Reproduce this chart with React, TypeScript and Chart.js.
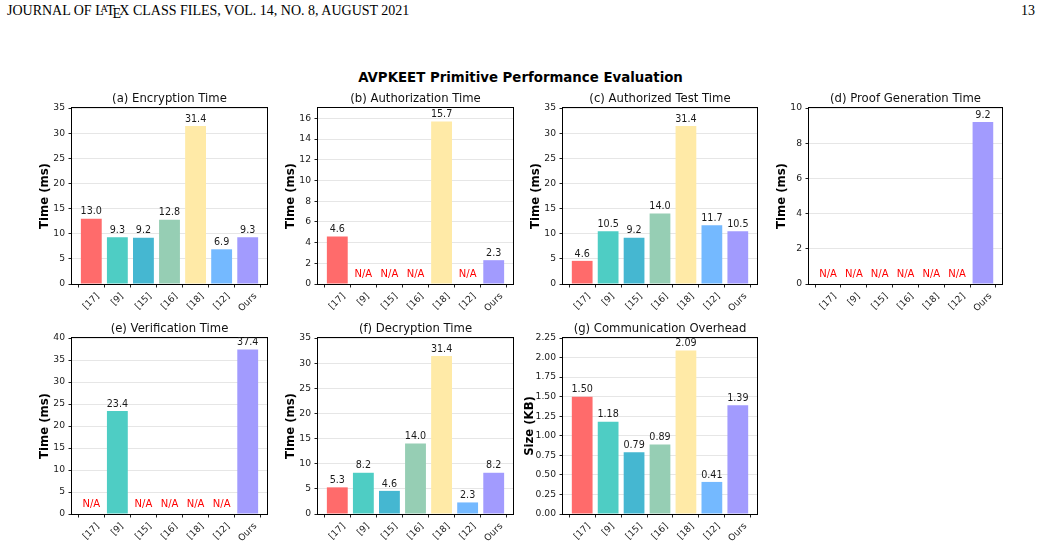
import React, { useEffect, useRef } from 'react';
import { Chart, registerables } from 'chart.js';

Chart.register(...registerables);

// Schemes compared in every panel
const CATEGORIES = ['[17]', '[9]', '[15]', '[16]', '[18]', '[12]', 'Ours'];
const BAR_COLORS = ['#FF6B6B', '#4ECDC4', '#45B7D1', '#96CEB4', '#FFEAA7', '#74B9FF', '#A29BFE'];

// Measured costs (null = scheme has no such primitive)
const encryptionTime = [13.0, 9.3, 9.2, 12.8, 31.4, 6.9, 9.3];
const authorizationTime = [4.6, null, null, null, 15.7, null, 2.3];
const authorizedTestTime = [4.6, 10.5, 9.2, 14.0, 31.4, 11.7, 10.5];
const proofGenerationTime = [null, null, null, null, null, null, 9.2];
const verificationTime = [null, 23.4, null, null, null, null, 37.4];
const decryptionTime = [5.3, 8.2, 4.6, 14.0, 31.4, 2.3, 8.2];
const communicationOverhead = [1.5, 1.18, 0.79, 0.89, 2.09, 0.41, 1.39];

// Y-axis tick values
const TICKS_0_35 = [0, 5, 10, 15, 20, 25, 30, 35];
const TICKS_0_16 = [0, 2, 4, 6, 8, 10, 12, 14, 16];
const TICKS_0_10 = [0, 2, 4, 6, 8, 10];
const TICKS_0_40 = [0, 5, 10, 15, 20, 25, 30, 35, 40];
const TICKS_KB = [0, 0.25, 0.5, 0.75, 1.0, 1.25, 1.5, 1.75, 2.0, 2.25];

const FONT = "'DejaVu Sans', sans-serif";
const TICK_FONT_SIZE = 9.2;
const VALUE_FONT_SIZE = 9.6;
const NA_FONT_SIZE = 10;
const TITLE_FONT_SIZE = 11.67;

type PanelSpec = {
  title: string;
  values: (number | null)[];
  yMax: number;
  yTicks: number[];
  yLabel: string;
  digits: number;
  tickDigits: number;
  col: number;
  row: number;
};

const PANELS: PanelSpec[] = [
  { title: '(a) Encryption Time', values: encryptionTime, yMax: 35, yTicks: TICKS_0_35, yLabel: 'Time (ms)', digits: 1, tickDigits: 0, col: 0, row: 0 },
  { title: '(b) Authorization Time', values: authorizationTime, yMax: 17, yTicks: TICKS_0_16, yLabel: 'Time (ms)', digits: 1, tickDigits: 0, col: 1, row: 0 },
  { title: '(c) Authorized Test Time', values: authorizedTestTime, yMax: 35, yTicks: TICKS_0_35, yLabel: 'Time (ms)', digits: 1, tickDigits: 0, col: 2, row: 0 },
  { title: '(d) Proof Generation Time', values: proofGenerationTime, yMax: 10, yTicks: TICKS_0_10, yLabel: 'Time (ms)', digits: 1, tickDigits: 0, col: 3, row: 0 },
  { title: '(e) Verification Time', values: verificationTime, yMax: 40, yTicks: TICKS_0_40, yLabel: 'Time (ms)', digits: 1, tickDigits: 0, col: 0, row: 1 },
  { title: '(f) Decryption Time', values: decryptionTime, yMax: 35, yTicks: TICKS_0_35, yLabel: 'Time (ms)', digits: 1, tickDigits: 0, col: 1, row: 1 },
  { title: '(g) Communication Overhead', values: communicationOverhead, yMax: 2.25, yTicks: TICKS_KB, yLabel: 'Size (KB)', digits: 2, tickDigits: 2, col: 2, row: 1 },
];

// Grid geometry of the subplot layout
const COL_LEFT = [72, 318, 563, 809];
const COL_WIDTH = [195, 195, 194, 193];
const ROW_TOP = [108, 338];
const PLOT_H = 176;
const AXIS_W = 70;
const TITLE_SPACE = 40;
const RIGHT_SPACE = 12;
const XAXIS_H = 32;
const TICK_LEN = 3.5;
const TICK_PAD = 3.5;

function Panel({ spec }: { spec: PanelSpec }) {
  const ref = useRef<HTMLCanvasElement>(null);
  const plotW = COL_WIDTH[spec.col];
  const width = AXIS_W + plotW + RIGHT_SPACE;
  const height = TITLE_SPACE + PLOT_H + XAXIS_H;

  useEffect(() => {
    const canvas = ref.current;
    if (!canvas) return;

    const decor = {
      id: 'panelDecor',
      afterDraw(chart: any) {
        const { ctx, chartArea: a, scales } = chart;
        const xs = scales.x;
        const ys = scales.y;
        ctx.save();

        // axes frame
        ctx.strokeStyle = '#000';
        ctx.lineWidth = 1;
        ctx.strokeRect(a.left - 0.5, a.top - 0.5, a.right - a.left + 1, a.bottom - a.top + 1);

        // panel title
        ctx.fillStyle = '#111';
        ctx.font = `${TITLE_FONT_SIZE}px ${FONT}`;
        ctx.textAlign = 'center';
        ctx.textBaseline = 'alphabetic';
        ctx.fillText(spec.title, (a.left + a.right) / 2, a.top - 6);

        // y-axis title, placed just outside the widest tick label
        ctx.font = `${TICK_FONT_SIZE}px ${FONT}`;
        let maxW = 0;
        for (const t of ys.ticks) {
          const w = ctx.measureText(String(t.label)).width;
          if (w > maxW) maxW = w;
        }
        ctx.save();
        ctx.translate(a.left - (20.5 + 0.6 * maxW), (a.top + a.bottom) / 2);
        ctx.rotate(-Math.PI / 2);
        ctx.font = `bold ${TITLE_FONT_SIZE}px ${FONT}`;
        ctx.textAlign = 'center';
        ctx.textBaseline = 'middle';
        ctx.fillStyle = '#000';
        ctx.fillText(spec.yLabel, 0, 0);
        ctx.restore();

        // rotated category labels, centred under each tick
        ctx.font = `${TICK_FONT_SIZE}px ${FONT}`;
        ctx.fillStyle = '#1a1a1a';
        const lineH = TICK_FONT_SIZE * 1.16;
        CATEGORIES.forEach((label, i) => {
          const w = ctx.measureText(label).width;
          const boxH = (w + lineH) * Math.SQRT1_2;
          const cx = xs.getPixelForValue(i);
          const cy = a.bottom + TICK_LEN + TICK_PAD + boxH / 2;
          ctx.save();
          ctx.translate(cx, cy);
          ctx.rotate(-Math.PI / 4);
          ctx.textAlign = 'center';
          ctx.textBaseline = 'middle';
          ctx.fillText(label, 0, 0);
          ctx.restore();
        });

        // value annotations
        ctx.textAlign = 'center';
        ctx.textBaseline = 'alphabetic';
        spec.values.forEach((v, i) => {
          const x = xs.getPixelForValue(i);
          if (v === null) {
            ctx.font = `${NA_FONT_SIZE}px ${FONT}`;
            ctx.fillStyle = '#ff0000';
            ctx.fillText('N/A', x, a.bottom - 7);
          } else {
            ctx.font = `${VALUE_FONT_SIZE}px ${FONT}`;
            ctx.fillStyle = '#1a1a1a';
            ctx.fillText(v.toFixed(spec.digits), x, ys.getPixelForValue(v) - 4.3);
          }
        });

        ctx.restore();
      },
    };

    const chart = new Chart(canvas, {
      type: 'bar',
      data: {
        datasets: [
          {
            data: spec.values.map((v, i) => ({ x: i, y: v })) as any,
            backgroundColor: BAR_COLORS,
            borderWidth: 0,
            barPercentage: 0.8,
            categoryPercentage: 1,
          },
        ],
      },
      options: {
        responsive: false,
        animation: false,
        devicePixelRatio: 1,
        layout: { padding: { top: TITLE_SPACE, right: RIGHT_SPACE, left: 0, bottom: 0 } },
        plugins: {
          legend: { display: false },
          tooltip: { enabled: false },
          title: { display: false },
        },
        scales: {
          x: {
            type: 'linear',
            min: -0.74,
            max: 6.74,
            offset: false,
            border: { display: false },
            grid: {
              display: true,
              drawOnChartArea: false,
              drawTicks: true,
              tickLength: TICK_LEN,
              tickColor: '#222',
              tickWidth: 1,
            },
            ticks: { display: false },
            afterBuildTicks: (scale: any) => {
              scale.ticks = CATEGORIES.map((_, i) => ({ value: i }));
            },
            afterFit: (scale: any) => {
              scale.height = XAXIS_H;
            },
          },
          y: {
            type: 'linear',
            min: 0,
            max: spec.yMax,
            border: { display: false },
            grid: {
              display: true,
              drawOnChartArea: true,
              drawTicks: true,
              color: '#e6e6e6',
              lineWidth: 1,
              tickLength: TICK_LEN,
              tickColor: '#222',
              tickWidth: 1,
            },
            ticks: {
              padding: TICK_PAD,
              color: '#1a1a1a',
              font: { family: FONT, size: TICK_FONT_SIZE },
              callback: (value: any) => Number(value).toFixed(spec.tickDigits),
            },
            afterBuildTicks: (scale: any) => {
              scale.ticks = spec.yTicks.map((v) => ({ value: v }));
            },
            afterFit: (scale: any) => {
              scale.width = AXIS_W;
            },
          },
        },
      } as any,
      plugins: [decor],
    });

    return () => chart.destroy();
  }, [spec]);

  return (
    <canvas
      ref={ref}
      width={width}
      height={height}
      style={{
        position: 'absolute',
        left: COL_LEFT[spec.col] - AXIS_W,
        top: ROW_TOP[spec.row] - TITLE_SPACE,
        width,
        height,
      }}
    />
  );
}

export default function App() {
  return (
    <div
      style={{
        position: 'absolute',
        left: 0,
        top: 0,
        width: 1041,
        height: 547,
        overflow: 'hidden',
        background: '#fff',
      }}
    >
      <div
        style={{
          position: 'absolute',
          left: 7,
          top: 3,
          font: "14px 'Liberation Serif', 'Times New Roman', serif",
          lineHeight: '16px',
          color: '#000',
          whiteSpace: 'nowrap',
        }}
      >
        JOURNAL OF L
        <span style={{ fontSize: '0.72em', position: 'relative', top: '-0.28em', marginLeft: '-0.32em', marginRight: '-0.15em' }}>A</span>
        T
        <span style={{ position: 'relative', top: '0.22em', marginLeft: '-0.1667em', marginRight: '-0.125em' }}>E</span>
        X CLASS FILES, VOL. 14, NO. 8, AUGUST 2021
      </div>
      <div
        style={{
          position: 'absolute',
          right: 6,
          top: 3,
          font: "14px 'Liberation Serif', 'Times New Roman', serif",
          lineHeight: '16px',
          color: '#000',
        }}
      >
        13
      </div>
      <div
        style={{
          position: 'absolute',
          left: 0,
          top: 70,
          width: 1041,
          textAlign: 'center',
          fontFamily: FONT,
          fontWeight: 'bold',
          fontSize: 13.33,
          lineHeight: '16px',
          color: '#000',
        }}
      >
        AVPKEET Primitive Performance Evaluation
      </div>
      {PANELS.map((p) => (
        <Panel key={p.title} spec={p} />
      ))}
    </div>
  );
}
